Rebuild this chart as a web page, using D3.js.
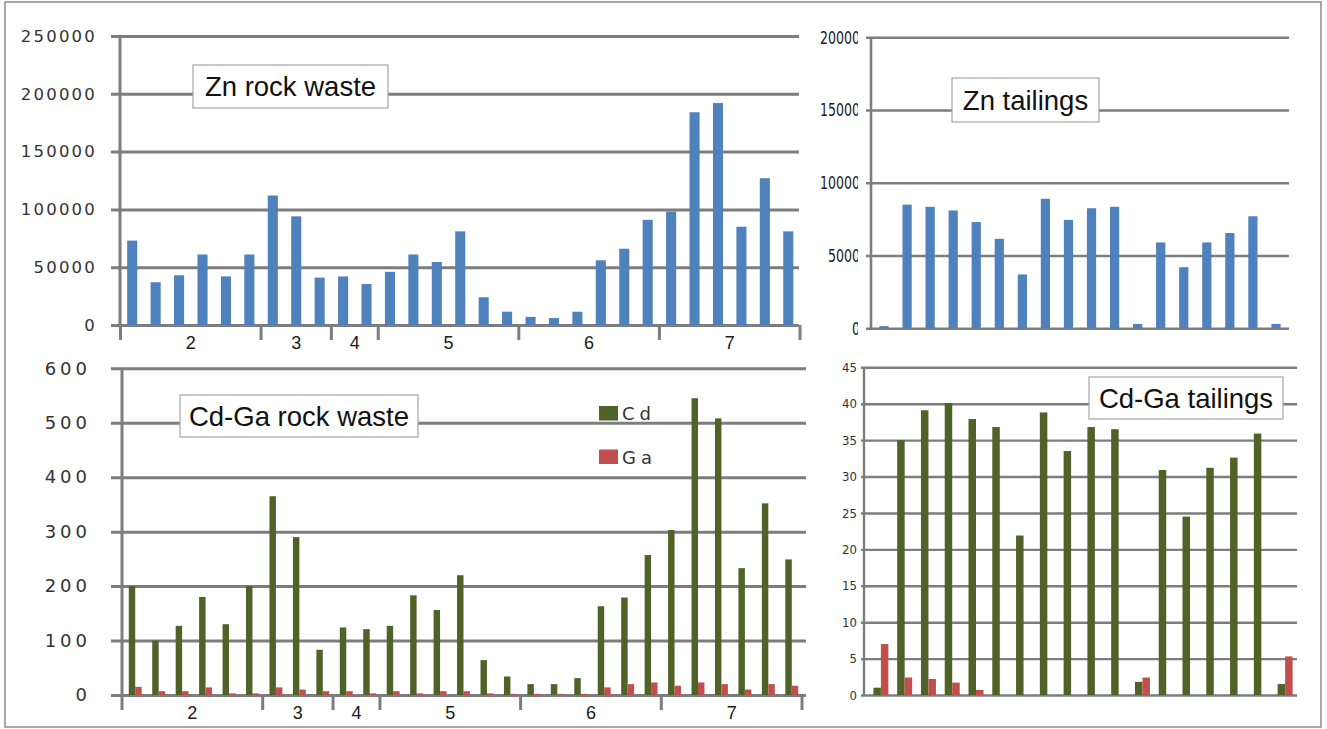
<!DOCTYPE html>
<html>
<head>
<meta charset="utf-8">
<script src="https://cdn.jsdelivr.net/npm/d3@7"></script>
<style>
  body { margin: 0; background: #fff; }
  svg { display: block; }
</style>
</head>
<body>
<svg id="chart" width="1327" height="729"></svg>
<script>
// rock waste samples, grouped by site
const rockGroups = ["2", "3", "4", "5", "6", "7"];
const rockGroupSizes = [6, 3, 2, 6, 6, 6];
const znRock = [73000, 37000, 43000, 61000, 42000, 61000, 112000, 94000, 41000,
  42000, 35500, 46000, 61000, 54500, 81000, 24000, 11500, 7000, 6000, 11500,
  56000, 66000, 91000, 98000, 184000, 192000, 85000, 127000, 81000];
const cdRock = [200, 100, 127, 180, 130, 200, 365, 290, 83, 124, 121, 127, 183,
  156, 220, 64, 34, 20, 20, 31, 163, 179, 257, 303, 545, 508, 233, 352, 249];
const gaRock = [15, 7, 7, 14, 3, 3, 14, 10, 7, 7, 3, 7, 3, 7, 7, 3, 2, 2, 2, 2,
  14, 20, 23, 17, 23, 20, 10, 20, 17];

// tailings samples
const znTail = [150, 8500, 8350, 8100, 7300, 6150, 3700, 8900, 7450, 8250, 8350,
  300, 5900, 4200, 5900, 6550, 7700, 300];
const cdTail = [1.0, 35.0, 39.1, 40.1, 37.9, 36.8, 21.9, 38.8, 33.5, 36.8, 36.5,
  1.8, 30.9, 24.5, 31.2, 32.6, 35.9, 1.5];
const gaTail = [7.0, 2.4, 2.2, 1.7, 0.7, 0, 0, 0, 0, 0, 0, 2.4, 0, 0, 0, 0, 0, 5.3];

const znTicksRock = [0, 50000, 100000, 150000, 200000, 250000];
const znTicksTail = [0, 5000, 10000, 15000, 20000];
const cdTicksRock = [0, 100, 200, 300, 400, 500, 600];
const cdTicksTail = [0, 5, 10, 15, 20, 25, 30, 35, 40, 45];

const legendNames = ["Cd", "Ga"];

const BLUE = "#4f81bd", GREEN = "#4f6228", RED = "#c0504d";
const GRID = "#7d7d7d";

const svg = d3.select("#chart");

// frame round the whole figure
svg.append("rect")
  .attr("x", 5).attr("y", 2).attr("width", 1316).attr("height", 725)
  .attr("fill", "#fff").attr("stroke", "#8c8c8c").attr("stroke-width", 1.5);

const panel = (cfg) => {
  const g = svg.append("g");
  const y = d3.scaleLinear().domain([0, cfg.yMax]).range([cfg.zero, cfg.top]);
  const n = cfg.series[0].values.length;
  const x = d3.scaleBand().domain(d3.range(n))
    .range([cfg.barLeft, cfg.barRight])
    .paddingInner(cfg.pad).paddingOuter(cfg.pad / 2);

  // gridlines and labels
  const ax = g.append("g")
    .attr("transform", `translate(${cfg.gridLeft},0)`)
    .call(d3.axisLeft(y).tickValues(cfg.ticks)
      .tickSize(-(cfg.gridRight - cfg.gridLeft))
      .tickPadding(cfg.gridLeft - cfg.labelRight)
      .tickFormat(d3.format("d")));
  ax.select(".domain").remove();
  ax.selectAll(".tick line").attr("stroke", GRID).attr("stroke-width", cfg.gridW);
  ax.selectAll(".tick text")
    .attr("fill", cfg.labelColor)
    .style("font-family", cfg.labelFont)
    .style("font-size", cfg.labelSize + "px")
    .style("letter-spacing", (cfg.labelSpacing || 0) + "px");

  if (cfg.squeeze) {
    // squashed labels, last glyph cut off as in the scan
    const clipId = "clip" + cfg.axisX;
    svg.append("clipPath").attr("id", clipId).append("rect")
      .attr("x", -300).attr("y", -1000)
      .attr("width", 300 - (cfg.gridLeft - cfg.clipAt)).attr("height", 3000);
    ax.selectAll(".tick text").each(function () {
      const t = d3.select(this);
      t.attr("textLength", cfg.squeeze * t.text().length)
        .attr("lengthAdjust", "spacingAndGlyphs")
        .attr("clip-path", `url(#${clipId})`);
    });
  }

  // vertical axis
  g.append("line")
    .attr("x1", cfg.axisX).attr("x2", cfg.axisX)
    .attr("y1", cfg.top).attr("y2", cfg.zero)
    .attr("stroke", GRID).attr("stroke-width", cfg.gridW);

  // bars
  const inner = d3.scaleBand().domain(d3.range(cfg.series.length))
    .range([0, x.bandwidth()]);
  cfg.series.forEach((s, si) => {
    g.append("g").selectAll("rect")
      .data(s.values)
      .join("rect")
      .attr("x", (d, i) => x(i) + inner(si) + (cfg.shift || 0))
      .attr("width", inner.bandwidth())
      .attr("y", d => y(d))
      .attr("height", d => y(0) - y(d))
      .attr("fill", s.color);
  });

  // group separators and labels under the axis
  if (cfg.groups) {
    const slot = (cfg.barRight - cfg.barLeft) / n;
    let acc = 0;
    const bounds = [0];
    cfg.groupSizes.forEach(k => { acc += k; bounds.push(acc); });
    g.append("g").selectAll("line")
      .data(bounds)
      .join("line")
      .attr("x1", d => cfg.barLeft + d * slot).attr("x2", d => cfg.barLeft + d * slot)
      .attr("y1", cfg.zero).attr("y2", cfg.zero + 15)
      .attr("stroke", GRID).attr("stroke-width", cfg.gridW);
    g.append("g").selectAll("text")
      .data(cfg.groups)
      .join("text")
      .attr("x", (d, i) => cfg.barLeft + (bounds[i] + bounds[i + 1]) / 2 * slot)
      .attr("y", cfg.zero + 24)
      .attr("text-anchor", "middle")
      .style("font-family", "Liberation Sans, Arial, sans-serif")
      .style("font-size", "18px")
      .attr("fill", "#1a1a1a")
      .text(d => d);
  }

  // title box
  const tb = cfg.title;
  g.append("rect")
    .attr("x", tb.x).attr("y", tb.y).attr("width", tb.w).attr("height", tb.h)
    .attr("fill", "#fff").attr("stroke", "#a6a6a6").attr("stroke-width", 1.2);
  g.append("text")
    .attr("x", tb.x + tb.w / 2).attr("y", tb.y + tb.h / 2 + 9.5)
    .attr("text-anchor", "middle")
    .style("font-family", "Liberation Sans, Arial, sans-serif")
    .style("font-size", "27.5px")
    .attr("fill", "#111")
    .text(tb.text);
  return { x, y, g };
};

// Zn rock waste
panel({
  series: [{ values: znRock, color: BLUE }],
  yMax: 250000, ticks: znTicksRock,
  top: 36, zero: 325, axisX: 120,
  gridLeft: 111, gridRight: 799, barLeft: 120.5, barRight: 800, pad: 0.57,
  labelRight: 97, labelFont: "DejaVu Sans, sans-serif", labelSize: 16.5,
  labelSpacing: 2.2, labelColor: "#333", gridW: 3,
  groups: rockGroups, groupSizes: rockGroupSizes,
  title: { x: 193, y: 65, w: 195, h: 43, text: "Zn rock waste" }
});

// Zn tailings
panel({
  series: [{ values: znTail, color: BLUE }],
  yMax: 20000, ticks: znTicksTail,
  top: 37.3, zero: 328.3, axisX: 871,
  gridLeft: 866, gridRight: 1289, barLeft: 872.5, barRight: 1287.5, pad: 0.6,
  labelRight: 860, labelFont: "DejaVu Sans, sans-serif", labelSize: 18,
  labelColor: "#1a1a1a", gridW: 2.6, squeeze: 8, clipAt: 858,
  title: { x: 952, y: 78, w: 147, h: 44, text: "Zn tailings" }
});

// Cd-Ga rock waste
panel({
  series: [{ values: cdRock, color: GREEN }, { values: gaRock, color: RED }],
  yMax: 600, ticks: cdTicksRock,
  top: 368.3, zero: 695, axisX: 122,
  gridLeft: 111, gridRight: 806, barLeft: 122, barRight: 802, pad: 0.45, shift: 1.5,
  labelRight: 91, labelFont: "DejaVu Sans, sans-serif", labelSize: 18,
  labelSpacing: 4, labelColor: "#333", gridW: 3,
  groups: rockGroups, groupSizes: rockGroupSizes,
  title: { x: 180, y: 395, w: 238, h: 42, text: "Cd-Ga rock waste" }
});

// Cd-Ga tailings
panel({
  series: [{ values: cdTail, color: GREEN }, { values: gaTail, color: RED }],
  yMax: 45, ticks: cdTicksTail,
  top: 367.3, zero: 695, axisX: 864,
  gridLeft: 861, gridRight: 1297, barLeft: 869, barRight: 1297, pad: 0.37,
  labelRight: 857, labelFont: "DejaVu Sans Condensed, DejaVu Sans, sans-serif", labelSize: 13,
  labelColor: "#333", gridW: 2.4,
  title: { x: 1089, y: 377, w: 194, h: 42, text: "Cd-Ga tailings" }
});

// legend of the rock waste Cd-Ga panel
const legend = svg.append("g").attr("transform", "translate(599,406)");
legend.selectAll("rect")
  .data(legendNames)
  .join("rect")
  .attr("x", 0).attr("y", (d, i) => i * 43.5)
  .attr("width", 19).attr("height", 14.5)
  .attr("fill", (d, i) => [GREEN, RED][i]);
legend.selectAll("text")
  .data(legendNames)
  .join("text")
  .attr("x", 23).attr("y", (d, i) => i * 43.5 + 14)
  .style("font-family", "DejaVu Sans, sans-serif")
  .style("font-size", "18px")
  .style("letter-spacing", "5px")
  .attr("fill", "#333")
  .text(d => d);
</script>
</body>
</html>
